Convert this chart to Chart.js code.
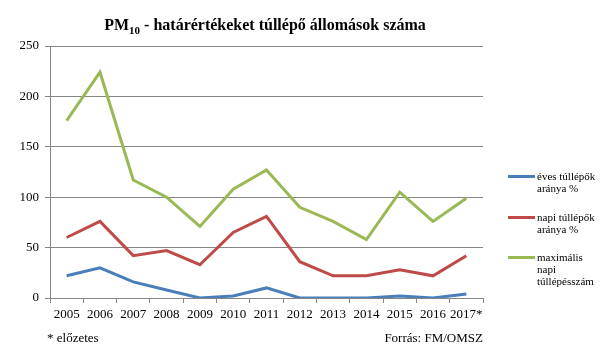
<!DOCTYPE html>
<html>
<head>
<meta charset="utf-8">
<script src="https://cdn.jsdelivr.net/npm/chart.js@4"></script>
<style>
  body { margin: 0; background: #fff; }
  #wrap { position: relative; width: 608px; height: 364px; font-family: "Liberation Serif", "Times New Roman", serif; }
  .leg { position: absolute; left: 508px; font-size: 11px; line-height: 12px; color: #000; }
  .leg span.sw { position: absolute; left: 0; top: 5px; width: 27px; height: 3px; }
  .leg div { margin-left: 29px; }
  .note { position: absolute; top: 330px; font-size: 13px; color: #000; }
</style>
</head>
<body>
<div id="wrap">
  <canvas id="c" width="608" height="364"></canvas>
  <div id="legend"></div>
  <div class="note" style="left:47px">* előzetes</div>
  <div class="note" style="right:125px">Forrás: FM/OMSZ</div>
</div>
<script>
const years = ['2005', '2006', '2007', '2008', '2009', '2010', '2011', '2012', '2013', '2014', '2015', '2016', '2017*'];
const evesTullepok = [22, 30, 16, 8, 0, 2, 10, 0, 0, 0, 2, 0, 4];
const napiTullepok = [60, 76, 42, 47, 33, 65, 81, 36, 22, 22, 28, 22, 42];
const maxNapi = [176, 224, 117, 100, 71, 108, 127, 90, 76, 58, 105, 76, 99];
const yTicks = [0, 50, 100, 150, 200, 250];

const series = [
  { label: 'éves túllépők aránya %', lines: ['éves túllépők', 'aránya %'], data: evesTullepok, color: '#4a7ebb', top: 170 },
  { label: 'napi túllépők aránya %', lines: ['napi túllépők', 'aránya %'], data: napiTullepok, color: '#be4b48', top: 211 },
  { label: 'maximális napi túllépésszám', lines: ['maximális', 'napi', 'túllépésszám'], data: maxNapi, color: '#98b954', top: 251 }
];

const gridColor = '#868686';
const font = { family: '"Liberation Serif", "Times New Roman", serif', size: 13 };

// legend (html)
const legendEl = document.getElementById('legend');
series.forEach(s => {
  const d = document.createElement('div');
  d.className = 'leg';
  d.style.top = s.top + 'px';
  d.innerHTML = `<span class="sw" style="background:${s.color}"></span><div>${s.lines.join('<br>')}</div>`;
  legendEl.appendChild(d);
});

// title with subscript
const titlePlugin = {
  id: 'pmTitle',
  afterDraw(chart) {
    const ctx = chart.ctx;
    ctx.save();
    ctx.fillStyle = '#000';
    ctx.textBaseline = 'alphabetic';
    const big = 'bold 16px "Liberation Serif", serif';
    const small = 'bold 11px "Liberation Serif", serif';
    const parts = [['PM', big, 0], ['10', small, 4], [' - határértékeket túllépő állomások száma', big, 0]];
    let total = 0;
    parts.forEach(p => { ctx.font = p[1]; total += ctx.measureText(p[0]).width; });
    let x = 265 - total / 2;
    parts.forEach(p => {
      ctx.font = p[1];
      ctx.fillText(p[0], x, 30 + p[2]);
      x += ctx.measureText(p[0]).width;
    });
    ctx.restore();
  }
};

new Chart(document.getElementById('c'), {
  type: 'line',
  data: {
    labels: years,
    datasets: series.map(s => ({
      label: s.label,
      data: s.data,
      borderColor: s.color,
      backgroundColor: s.color,
      borderWidth: 3,
      pointRadius: 0,
      tension: 0
    }))
  },
  options: {
    responsive: false,
    animation: false,
    layout: { padding: { top: 46, right: 125, left: 0, bottom: 0 } },
    plugins: { legend: { display: false }, tooltip: { enabled: false } },
    scales: {
      x: {
        offset: true,
        grid: { offset: true, drawOnChartArea: false, drawTicks: true, tickLength: 5, color: gridColor },
        border: { color: gridColor },
        ticks: { color: '#000', font: font, maxRotation: 0, autoSkip: false, padding: 4 },
        afterFit(scale) { scale.height = 66; }
      },
      y: {
        min: 0,
        max: 250,
        afterBuildTicks(scale) { scale.ticks = yTicks.map(v => ({ value: v })); },
        grid: { color: gridColor, tickLength: 5 },
        border: { color: gridColor },
        ticks: { color: '#000', font: font, padding: 6 },
        afterFit(scale) { scale.width = 50; }
      }
    }
  },
  plugins: [titlePlugin]
});
</script>
</body>
</html>
